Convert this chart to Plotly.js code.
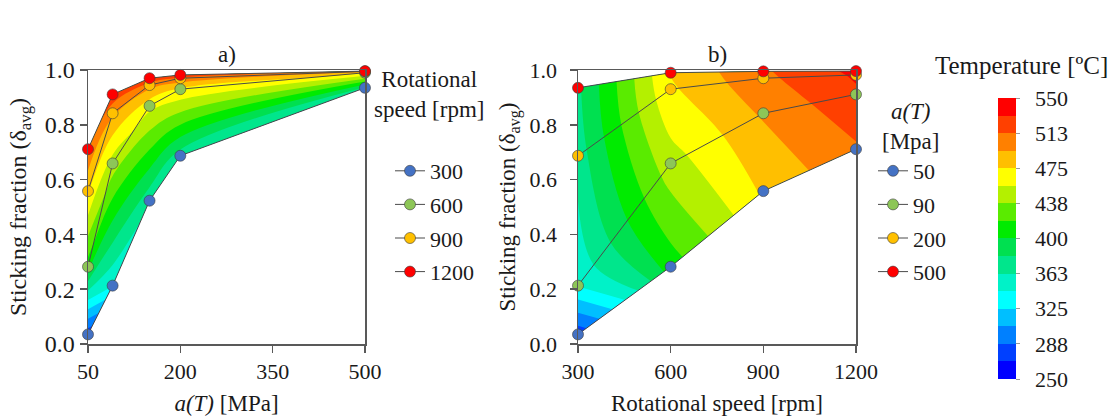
<!DOCTYPE html>
<html>
<head>
<meta charset="utf-8">
<script src="https://cdn.plot.ly/plotly-3.0.1.min.js"></script>
<style>
  html, body { margin: 0; padding: 0; background: #ffffff; }
  #chart { width: 1115px; height: 416px; }
</style>
</head>
<body>
<div id="chart"></div>
<script>
// Applied a(T) levels [MPa] and rotational speeds [rpm]
const aT = [50, 90, 150, 200, 500];
const speeds = [300, 600, 900, 1200];
// a(T) levels plotted against rotational speed in panel b
const aTPanelB = [50, 90, 200, 500];

// Average sticking fraction, one array per rotational speed (columns follow aT)
const stick300  = [0.035, 0.213, 0.523, 0.687, 0.935];
const stick600  = [0.282, 0.659, 0.869, 0.930, 0.990];
const stick900  = [0.558, 0.842, 0.945, 0.970, 0.995];
const stick1200 = [0.711, 0.911, 0.970, 0.982, 0.996];

// Temperature [ºC], same layout
const temp300  = [275, 345, 368, 372, 378];
const temp600  = [410, 448, 462, 472, 476];
const temp900  = [478, 496, 502, 508, 510];
const temp1200 = [510, 528, 532, 534, 536];

// Temperature scale and colour bar ticks
const tempMin = 250;
const tempMax = 550;
const tempTickVals = [250, 287.5, 325, 362.5, 400, 437.5, 475, 512.5, 550];
const tempTickText = ['250', '288', '325', '363', '400', '438', '475', '513', '550'];

// Axis ticks
const xTicksA = [50, 200, 350, 500];
const xTicksB = [300, 600, 900, 1200];
const yTicks = [0, 0.2, 0.4, 0.6, 0.8, 1.0];

// ---- styling ----
const W = 1115, H = 416;
const px = v => v / W;              // horizontal pixel -> paper
const py = v => 1 - v / H;          // vertical pixel (from top) -> paper

const bandColors = [
  '#0000FF', '#0040FF', '#0080FF', '#00BFFF',
  '#00FFFF', '#00F2C8', '#00E68C', '#00E050',
  '#00EB00', '#5AEB00', '#B4F000', '#FFFF00',
  '#FFBF00', '#FF8000', '#FF4000', '#FF0000'
];
const nBands = bandColors.length;
const bandSize = (tempMax - tempMin) / nBands;

// contour fill: one colour per band, sampled at band centres
const contourScale = bandColors.map((c, k) => [k / (nBands - 1), c]);
// colour bar: hard steps between bands
const stepScale = [];
bandColors.forEach((c, k) => {
  stepScale.push([k / nBands, c]);
  stepScale.push([(k + 1) / nBands, c]);
});

const seriesColors = ['#4472C4', '#8DC657', '#FFC000', '#FF0000'];
const axisColor = '#595959';
const lineColor = '#4a4a4a';
const textColor = '#1a1a1a';
const serif = 'Liberation Serif';
const tickSize = 22, titleSize = 23;

const stickRows = [stick300, stick600, stick900, stick1200];
const tempRows = [temp300, temp600, temp900, temp1200];
const colB = aTPanelB.map(v => aT.indexOf(v));

const hiddenCarpetAxis = {
  smoothing: 0, showgrid: false, showline: false, showticklabels: 'none',
  startline: false, endline: false, minorgridcount: 0, tickmode: 'array', tickvals: []
};

const contourStyle = {
  autocontour: false,
  contours: { start: tempMin + bandSize, end: tempMax - bandSize, size: bandSize, coloring: 'fill' },
  colorscale: contourScale,
  line: { width: 0, color: 'rgba(0,0,0,0)' },
  showscale: false,
  hoverinfo: 'skip'
};

const traces = [];

// Panel a: carpet over (a(T), speed), x = a(T), y = sticking fraction
traces.push({
  type: 'carpet', carpet: 'ca', xaxis: 'x', yaxis: 'y',
  a: aT, b: speeds,
  x: speeds.map(() => aT.slice()),
  y: stickRows,
  aaxis: hiddenCarpetAxis, baxis: hiddenCarpetAxis, hoverinfo: 'skip'
});
traces.push(Object.assign({
  type: 'contourcarpet', carpet: 'ca', xaxis: 'x', yaxis: 'y',
  a: aT, b: speeds, z: tempRows
}, contourStyle));

// Panel b: carpet over (speed, a(T)), x = speed, y = sticking fraction
traces.push({
  type: 'carpet', carpet: 'cb', xaxis: 'x2', yaxis: 'y2',
  a: speeds, b: aTPanelB,
  x: colB.map(() => speeds.slice()),
  y: colB.map(c => stickRows.map(r => r[c])),
  aaxis: hiddenCarpetAxis, baxis: hiddenCarpetAxis, hoverinfo: 'skip'
});
traces.push(Object.assign({
  type: 'contourcarpet', carpet: 'cb', xaxis: 'x2', yaxis: 'y2',
  a: speeds, b: aTPanelB,
  z: colB.map(c => tempRows.map(r => r[c]))
}, contourStyle));

const markerOf = color => ({ size: 11, color: color, line: { color: 'rgba(60,60,60,0.75)', width: 0.8 } });

// Panel a series: one line per rotational speed
speeds.forEach((s, j) => {
  traces.push({
    type: 'scatter', mode: 'lines+markers', xaxis: 'x', yaxis: 'y',
    x: aT, y: stickRows[j], name: String(s),
    legend: 'legend', legendgroup: 'rs' + s,
    line: { color: lineColor, width: 1 }, marker: markerOf(seriesColors[j]),
    cliponaxis: false, hoverinfo: 'x+y'
  });
});

// Panel b series: one line per a(T) level
aTPanelB.forEach((v, k) => {
  traces.push({
    type: 'scatter', mode: 'lines+markers', xaxis: 'x2', yaxis: 'y2',
    x: speeds, y: stickRows.map(r => r[colB[k]]), name: String(v),
    legend: 'legend2', legendgroup: 'at' + v,
    line: { color: lineColor, width: 1 }, marker: markerOf(seriesColors[k]),
    cliponaxis: false, hoverinfo: 'x+y'
  });
});

// Temperature colour bar (labels pushed a little away from the bar)
traces.push({
  type: 'scatter', mode: 'markers', xaxis: 'x2', yaxis: 'y2',
  x: [null], y: [null], showlegend: false, hoverinfo: 'skip',
  marker: {
    color: [tempMin], cmin: tempMin, cmax: tempMax, colorscale: stepScale, showscale: true,
    colorbar: {
      x: px(998), xanchor: 'left', xpad: 0, ypad: 0,
      y: py(238.5), yanchor: 'middle', len: 281, lenmode: 'pixels',
      thickness: 18, thicknessmode: 'pixels', outlinewidth: 0,
      tickmode: 'array', tickvals: tempTickVals,
      ticktext: tempTickText.map(t => '\u2002' + t),
      ticks: 'outside', ticklen: 4, tickcolor: '#9a9a9a',
      tickfont: { family: serif, size: tickSize, color: textColor }
    }
  }
});

const baseAxis = {
  showline: true, linecolor: axisColor, linewidth: 1.5, mirror: true,
  ticks: 'outside', ticklen: 7, tickwidth: 1.5, tickcolor: axisColor,
  showgrid: false, zeroline: false, fixedrange: true,
  tickfont: { family: serif, size: tickSize, color: textColor }
};
const yDomain = [py(344), py(70)];
const yTitle = 'Sticking fraction (δ<sub>avg</sub>)';
const titleFont = { family: serif, size: titleSize, color: textColor };

const layout = {
  width: W, height: H,
  margin: { l: 0, r: 0, t: 0, b: 0 },
  paper_bgcolor: '#ffffff', plot_bgcolor: 'rgba(0,0,0,0)',
  font: { family: serif, size: titleSize, color: textColor },
  showlegend: true,
  xaxis: Object.assign({}, baseAxis, {
    domain: [px(88), px(365)], range: [50, 500], anchor: 'y',
    tickmode: 'array', tickvals: xTicksA,
    title: { text: '<i>a(T)</i> [MPa]', standoff: 13, font: titleFont }
  }),
  yaxis: Object.assign({}, baseAxis, {
    domain: yDomain, range: [0, 1], anchor: 'x',
    tickmode: 'array', tickvals: yTicks, tickformat: '.1f',
    tickfont: { family: serif, size: 24, color: textColor },
    title: { text: yTitle, standoff: 11, font: { family: serif, size: 24, color: textColor } }
  }),
  xaxis2: Object.assign({}, baseAxis, {
    domain: [px(578), px(856)], range: [300, 1200], anchor: 'y2',
    tickmode: 'array', tickvals: xTicksB,
    title: { text: 'Rotational speed [rpm]', standoff: 13, font: titleFont }
  }),
  yaxis2: Object.assign({}, baseAxis, {
    domain: yDomain, range: [0, 1], anchor: 'x2',
    tickmode: 'array', tickvals: yTicks, tickformat: '.1f',
    ticklabelstandoff: 8,
    title: { text: yTitle, standoff: 7, font: titleFont }
  }),
  legend: {
    x: px(390), xanchor: 'left', y: py(150), yanchor: 'top',
    bgcolor: 'rgba(0,0,0,0)', borderwidth: 0,
    traceorder: 'grouped', tracegroupgap: 2,
    font: { family: serif, size: tickSize, color: textColor }
  },
  legend2: {
    x: px(873), xanchor: 'left', y: py(150), yanchor: 'top',
    bgcolor: 'rgba(0,0,0,0)', borderwidth: 0,
    traceorder: 'grouped', tracegroupgap: 2,
    font: { family: serif, size: tickSize, color: textColor }
  },
  annotations: [
    { text: 'a)', x: px(227), y: py(55), xref: 'paper', yref: 'paper', showarrow: false, xanchor: 'center', yanchor: 'middle', font: titleFont },
    { text: 'b)', x: px(717), y: py(55), xref: 'paper', yref: 'paper', showarrow: false, xanchor: 'center', yanchor: 'middle', font: titleFont },
    { text: 'Rotational<br>speed [rpm]', x: px(429), y: py(95), xref: 'paper', yref: 'paper', showarrow: false, xanchor: 'center', yanchor: 'middle', align: 'center', font: titleFont },
    { text: '<i>a(T)</i><br>[Mpa]', x: px(910), y: py(126), xref: 'paper', yref: 'paper', showarrow: false, xanchor: 'center', yanchor: 'middle', align: 'center', font: titleFont },
    { text: 'Temperature [ºC]', x: px(1021), y: py(65), xref: 'paper', yref: 'paper', showarrow: false, xanchor: 'center', yanchor: 'middle', font: { family: serif, size: 25, color: textColor } }
  ]
};

Plotly.newPlot('chart', traces, layout, { staticPlot: true, displayModeBar: false });
</script>
</body>
</html>
